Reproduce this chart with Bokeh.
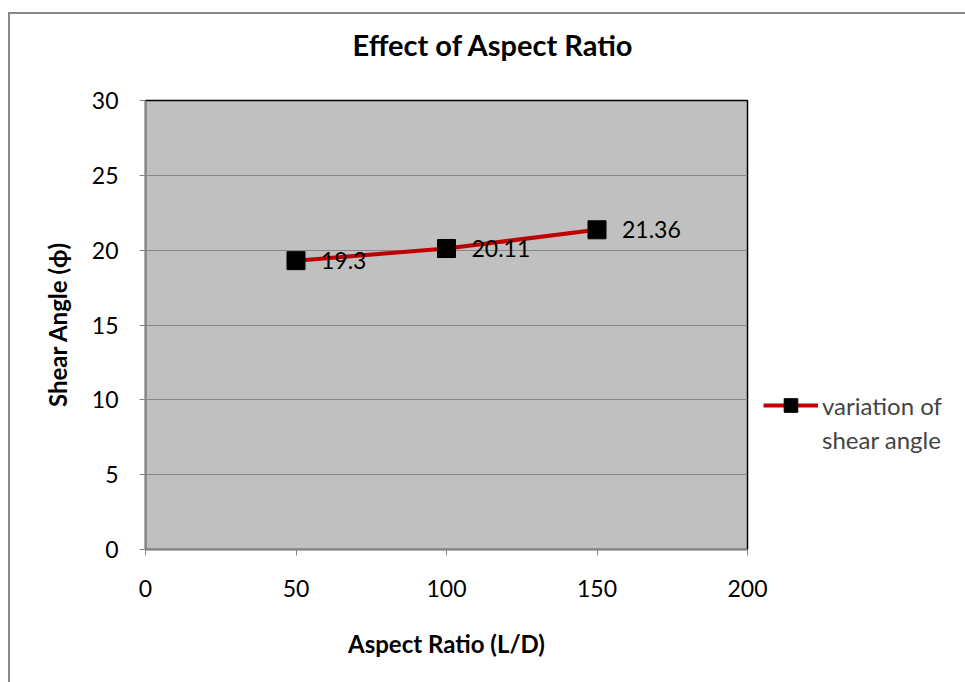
from bokeh.plotting import figure
from bokeh.models import ColumnDataSource, Legend, LegendItem, FixedTicker, Range1d
from bokeh.core.properties import value
from bokeh.embed import file_html
from bokeh.resources import INLINE

aspect_ratio = [50, 100, 150]
shear_angle = [19.3, 20.11, 21.36]
labels = ["19.3", "20.11", "21.36"]
x_ticks = [0, 50, 100, 150, 200]
y_ticks = [0, 5, 10, 15, 20, 25, 30]
legend_lines = ["variation of", "shear angle"]
title_text = "Effect of Aspect Ratio"

FONT = "Lato"
src = ColumnDataSource(dict(x=aspect_ratio, y=shear_angle, t=labels))

p = figure(frame_width=602, frame_height=449, output_backend="svg", toolbar_location=None,
           x_range=Range1d(0, 200), y_range=Range1d(0, 30),
           min_border_left=135, min_border_right=218, min_border_top=86, min_border_bottom=133)
p.margin = (12, 0, 0, 8)
p.styles = {"border-left": "2px solid #888888", "border-top": "2px solid #888888"}

p.background_fill_color = "#C0C0C0"
p.border_fill_color = "white"
p.outline_line_color = "black"
p.outline_line_width = 1.5

p.title.text = title_text + "\n "
p.title.text_font = FONT
p.title.text_font_size = "29px"
p.title.text_font_style = "bold"
p.title.text_color = "black"
p.title.text_line_height = 1.1
p.title.align = "left"
p.title.vertical_align = "bottom"
p.title.offset = 207
p.title.standoff = 0

p.xgrid.grid_line_color = None
p.ygrid.grid_line_color = "#868686"
p.ygrid.grid_line_width = 1

for ax in (p.xaxis[0], p.yaxis[0]):
    ax.axis_line_color = "#868686"
    ax.axis_line_width = 1.5
    ax.major_tick_line_color = "#868686"
    ax.major_tick_out = 6
    ax.major_tick_in = 0
    ax.minor_tick_line_color = None
    ax.major_label_text_font = FONT
    ax.major_label_text_font_size = "23px"
    ax.major_label_text_color = "black"
    ax.axis_label_text_font = FONT
    ax.axis_label_text_font_size = "24px"
    ax.axis_label_text_font_style = "bold"
    ax.axis_label_text_color = "black"

p.xaxis.ticker = FixedTicker(ticks=x_ticks)
p.yaxis.ticker = FixedTicker(ticks=y_ticks)
p.xaxis.axis_label = "Aspect Ratio (L/D)"
p.yaxis.axis_label = "Shear Angle (\u03d5)"
p.xaxis.major_label_standoff = 24
p.yaxis.major_label_standoff = 21
p.xaxis.axis_label_standoff = 29
p.yaxis.axis_label_standoff = 17

ln = p.line("x", "y", source=src, line_color="#C00000", line_width=4)
mk = p.scatter("x", "y", source=src, marker="square", size=18, fill_color="black", line_color="black")
p.text("x", "y", text="t", source=src, x_offset=25, text_baseline="middle",
       text_font=value(FONT), text_font_size="23px", text_color="black")

dummy = p.line(x=[], y=[], line_alpha=0)

legend = Legend(items=[LegendItem(label=legend_lines[0], renderers=[ln, mk]),
                       LegendItem(label=legend_lines[1], renderers=[dummy])],
                location=(16, 93), glyph_width=55, glyph_height=34, label_height=32,
                spacing=-2,
                label_text_font=FONT, label_text_font_size="24px",
                border_line_color=None, background_fill_alpha=0, label_standoff=4,
                padding=0, margin=0)
p.add_layout(legend, "right")

open("out.html", "w").write(file_html(p, INLINE))
